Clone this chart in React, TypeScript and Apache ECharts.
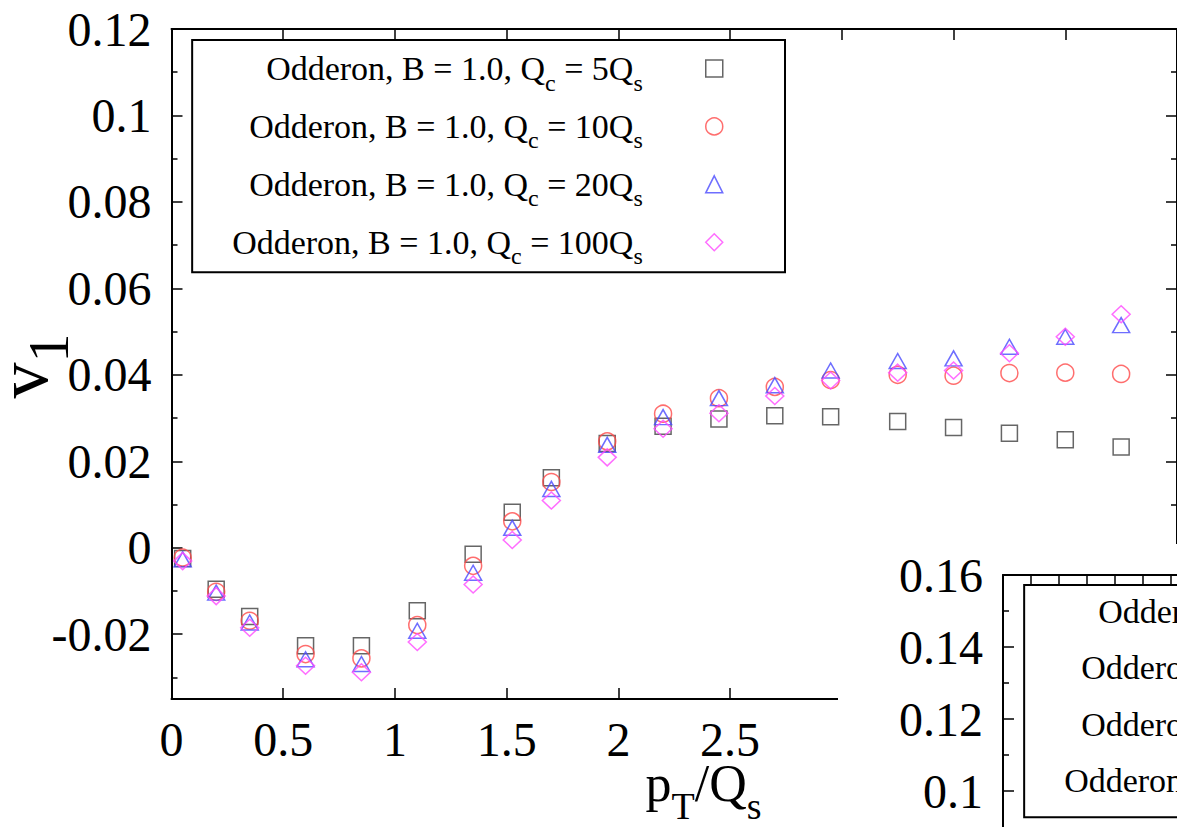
import React, { useEffect, useRef } from "react";
import * as echarts from "echarts";

// ---- data ----
const ptValues = [0.05, 0.2, 0.35, 0.6, 0.85, 1.1, 1.35, 1.525, 1.7, 1.95, 2.2, 2.45, 2.7, 2.95, 3.25, 3.5, 3.75, 4.0, 4.25];
const v1Qc5 = [-0.0025, -0.0096, -0.0159, -0.0227, -0.0227, -0.0146, -0.0015, 0.0082, 0.0162, 0.0241, 0.0281, 0.0298, 0.0305, 0.0303, 0.0292, 0.0278, 0.0265, 0.025, 0.0233];
const v1Qc10 = [-0.0023, -0.0102, -0.0169, -0.0246, -0.0256, -0.0179, -0.0042, 0.0061, 0.0152, 0.0246, 0.031, 0.0346, 0.0372, 0.0388, 0.04, 0.0398, 0.0404, 0.0405, 0.0402];
const v1Qc20 = [-0.0027, -0.0104, -0.0173, -0.0258, -0.0269, -0.0192, -0.0058, 0.0046, 0.0136, 0.0238, 0.0302, 0.0346, 0.0376, 0.041, 0.0432, 0.0438, 0.0465, 0.0488, 0.0515];
const v1Qc100 = [-0.0031, -0.0112, -0.0185, -0.0273, -0.0288, -0.0218, -0.0085, 0.0018, 0.0109, 0.0209, 0.0275, 0.0311, 0.0351, 0.0387, 0.0405, 0.041, 0.045, 0.0488, 0.054];
const qcLabels = ["5", "10", "20", "100"];
const xTickValues = [0, 0.5, 1, 1.5, 2, 2.5, 3, 3.5, 4, 4.5];
const xLabelValues = [0, 0.5, 1, 1.5, 2, 2.5];
const yMajor = [-0.02, 0, 0.02, 0.04, 0.06, 0.08, 0.1, 0.12];
const yMinor = [-0.03, -0.01, 0.01, 0.03, 0.05, 0.07, 0.09, 0.11];
const y2Major = [0.1, 0.12, 0.14, 0.16];
const y2Minor = [0.11, 0.13, 0.15];

const seriesValues = [v1Qc5, v1Qc10, v1Qc20, v1Qc100];
const symbols = ["rect", "circle", "triangle", "diamond"];
const symbolSizes: any[] = [16, 17, [17, 15], [18, 17]];
const colors = ["#404040", "#ff4a4a", "#4a4aff", "#ff4aff"];

const FONT = "Liberation Serif";
const names = qcLabels.map((q) => `Odderon, B = 1.0, Qc = ${q}Qs`);

const legendFormatter = (name: string) => {
  const idx = names.indexOf(name);
  const q = qcLabels[idx];
  return `{m|Odderon, B = 1.0, Q}{s|c}{m| = ${q}Q}{s|s}{g| }`;
};

const legendText = {
  fontFamily: FONT,
  fontSize: 34,
  color: "#000",
  rich: {
    m: { fontFamily: FONT, fontSize: 34, color: "#000" },
    s: { fontFamily: FONT, fontSize: 24, color: "#000", padding: [28, 0, 0, 0] },
    g: { fontFamily: FONT, fontSize: 34, width: 58 },
  },
};

const legendData = names.map((n, i) => ({
  name: n,
  icon: symbols[i],
  itemStyle: { color: "rgba(0,0,0,0)", borderColor: colors[i], borderWidth: 1.5 },
}));

const axisLine = { show: true, onZero: false, lineStyle: { color: "#000", width: 2 } };
const tickStyle = { color: "#000", width: 1.5 };

export default function App() {
  const ref = useRef<HTMLDivElement>(null);
  useEffect(() => {
    if (!ref.current) return;
    const chart = echarts.init(ref.current, undefined, { renderer: "svg" });
    const option: any = {
      animation: false,
      backgroundColor: "#fff",
      grid: [
        { left: 171.5, top: 29, width: 1008, height: 670 },
        { left: 1003, top: 575, width: 1008, height: 260.5, z: 60 },
      ],
      xAxis: [
        {
          gridIndex: 0, type: "value", position: "bottom", min: 0, max: 4.5,
          axisLine, splitLine: { show: false },
          axisTick: { show: true, inside: true, length: 11, customValues: xTickValues, lineStyle: tickStyle },
          axisLabel: { show: true, customValues: xLabelValues, margin: 16, fontFamily: FONT, fontSize: 48, color: "#000" },
        },
        {
          gridIndex: 0, type: "value", position: "top", min: 0, max: 4.5,
          axisLine, splitLine: { show: false },
          axisTick: { show: true, inside: true, length: 11, customValues: xTickValues, lineStyle: tickStyle },
          axisLabel: { show: false },
        },
        {
          gridIndex: 1, type: "value", position: "top", min: 0, max: 4.5, z: 60,
          axisLine, splitLine: { show: false },
          axisTick: { show: true, inside: true, length: 11, customValues: xTickValues, lineStyle: tickStyle },
          axisLabel: { show: false },
        },
      ],
      yAxis: [
        {
          gridIndex: 0, type: "value", position: "left", min: -0.035, max: 0.12,
          axisLine, splitLine: { show: false },
          axisTick: { show: true, inside: true, length: 11, customValues: yMajor, lineStyle: tickStyle },
          axisLabel: { show: true, customValues: yMajor, margin: 20, fontFamily: FONT, fontSize: 48, color: "#000" },
        },
        {
          gridIndex: 0, type: "value", position: "left", min: -0.035, max: 0.12,
          axisLine: { show: false, onZero: false }, splitLine: { show: false },
          axisTick: { show: true, inside: true, length: 6, customValues: yMinor, lineStyle: tickStyle },
          axisLabel: { show: false },
        },
        {
          gridIndex: 0, type: "value", position: "right", min: -0.035, max: 0.12,
          axisLine, splitLine: { show: false },
          axisTick: { show: true, inside: true, length: 11, customValues: yMajor, lineStyle: tickStyle },
          axisLabel: { show: false },
        },
        {
          gridIndex: 0, type: "value", position: "right", min: -0.035, max: 0.12,
          axisLine: { show: false, onZero: false }, splitLine: { show: false },
          axisTick: { show: true, inside: true, length: 6, customValues: yMinor, lineStyle: tickStyle },
          axisLabel: { show: false },
        },
        {
          gridIndex: 1, type: "value", position: "left", min: 0.09, max: 0.16, z: 60,
          axisLine, splitLine: { show: false },
          axisTick: { show: true, inside: true, length: 11, customValues: y2Major, lineStyle: tickStyle },
          axisLabel: { show: true, customValues: y2Major, margin: 20, fontFamily: FONT, fontSize: 48, color: "#000" },
        },
        {
          gridIndex: 1, type: "value", position: "left", min: 0.09, max: 0.16, z: 60,
          axisLine: { show: false, onZero: false }, splitLine: { show: false },
          axisTick: { show: true, inside: true, length: 6, customValues: y2Minor, lineStyle: tickStyle },
          axisLabel: { show: false },
        },
      ],
      legend: [
        {
          orient: "vertical", right: 392, top: 40, align: "right",
          itemWidth: 17, itemHeight: 17, itemGap: 14.9,
          padding: [11.5, 61.5, 4, 40], borderColor: "#000", borderWidth: 2, borderRadius: 0,
          selectedMode: false, data: legendData, formatter: legendFormatter, textStyle: legendText, z: 10,
        },
        {
          orient: "vertical", right: 392 - 832, top: 585, align: "right",
          itemWidth: 17, itemHeight: 17, itemGap: 13.4,
          padding: [9.5, 61.5, 10.5, 40], borderColor: "#000", borderWidth: 2, borderRadius: 0,
          selectedMode: false, data: legendData, formatter: legendFormatter, textStyle: legendText, z: 60,
        },
      ],
      graphic: [
        {
          type: "rect", silent: true, z: 50,
          shape: { x: 838, y: 544, width: 400, height: 300 },
          style: { fill: "#fff" },
        },
        {
          type: "text", silent: true, z: 10, x: 23, y: 366, rotation: Math.PI / 2,
          style: {
            text: "{v|v}{s|1}", align: "center", verticalAlign: "middle",
            rich: {
              v: { fontFamily: FONT, fontSize: 72, color: "#000" },
              s: { fontFamily: FONT, fontSize: 58, color: "#000", padding: [50, 0, 0, 0] },
            },
          },
        },
        {
          type: "text", silent: true, z: 10, x: 703.5, y: 783.5,
          style: {
            text: "{m|p}{s|T}{m|/Q}{s|s}", align: "center", verticalAlign: "middle",
            rich: {
              m: { fontFamily: FONT, fontSize: 52, color: "#000" },
              s: { fontFamily: FONT, fontSize: 38, color: "#000", padding: [45, 0, 0, 0] },
            },
          },
        },
      ],
      series: names.map((n, i) => ({
        type: "scatter",
        name: n,
        xAxisIndex: 0,
        yAxisIndex: 0,
        symbol: symbols[i],
        symbolSize: symbolSizes[i],
        data: ptValues.map((x, k) => [x, seriesValues[i][k]]),
        itemStyle: { color: "rgba(0,0,0,0)", borderColor: colors[i], borderWidth: 1.5 },
        emphasis: { disabled: true },
        z: 2 + i * 0.1,
      })),
    };
    chart.setOption(option);
    return () => chart.dispose();
  }, []);
  return (
    <div
      ref={ref}
      style={{ position: "fixed", left: 0, top: 0, width: 1177, height: 827 }}
    />
  );
}
